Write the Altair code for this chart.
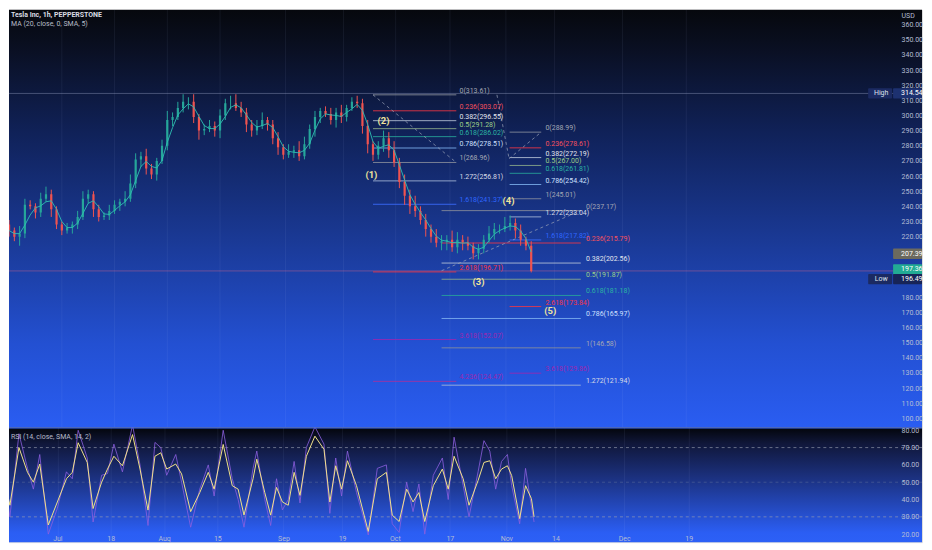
import altair as alt
import pandas as pd

# ---------------- price data (one candle per trading day, day 0 = Jul 1) ----------------
first_day = -10
first_open = 228
closes = [224, 220, 222, 241, 240, 236, 245, 248, 238, 228,
          224, 226, 228, 233, 245, 248, 238, 233, 234, 237,
          241, 243, 245, 255, 271, 273, 265, 261, 270, 280,
          297, 299, 305, 309, 309, 299, 290, 291, 293, 290,
          300, 308, 308, 305, 302, 294, 290, 293, 297, 294,
          285, 279, 274, 276, 277, 273, 281, 291, 299, 303,
          301, 297, 302, 299, 305, 309, 308, 293, 281, 274,
          280, 285, 277, 269, 256, 247, 240, 237, 231, 225,
          220, 216, 217, 218, 213, 218, 216, 214, 209, 212,
          218, 222, 225, 225, 227, 229, 224, 218, 214, 197.36]
wick_up = [3, 2, 5, 4, 3, 2, 4, 5, 3, 2,
           2, 3, 2, 4, 5, 3, 2, 3, 2, 4,
           3, 2, 5, 6, 4, 3, 5, 3, 2, 4,
           6, 3, 4, 5, 3, 5, 2, 3, 4, 3,
           4, 3, 5, 6, 4, 3, 3, 4, 5, 2,
           3, 4, 2, 5, 3, 6, 5, 3, 4, 2,
           3, 4, 3, 5, 2, 3, 4, 3, 4, 2,
           3, 5, 4, 6, 3, 5, 4, 7, 3, 4,
           3, 5, 4, 3, 6, 5, 3, 4, 2, 3,
           3, 5, 4, 3, 6, 5, 3, 4, 2, 3]
wick_dn = [4, 3, 6, 3, 2, 4, 3, 2, 5, 3,
           3, 2, 4, 3, 2, 3, 5, 3, 2, 3,
           2, 4, 3, 2, 3, 5, 4, 3, 4, 2,
           3, 4, 2, 3, 5, 4, 6, 3, 2, 4,
           5, 3, 4, 2, 3, 5, 4, 3, 2, 4,
           4, 5, 3, 2, 4, 3, 2, 3, 5, 4,
           2, 3, 5, 4, 3, 2, 3, 5, 6, 4,
           3, 4, 5, 3, 4, 6, 5, 4, 3, 5,
           4, 3, 5, 6, 3, 4, 5, 3, 4, 4,
           3, 2, 4, 3, 2, 3, 5, 4, 3, 1]
ma_len = 3

# ---------------- RSI data ----------------
rsi_day = [-10.6, -8.9, -7.2, -5.6, -4.5, -3.3, -1.7, 0.0, 1.7, 2.8,
           3.9, 5.6, 6.7, 8.3, 9.4, 10.6, 12.2, 14.1, 15.5, 17.0,
           18.3, 19.4, 20.5, 22.2, 23.3, 25.0, 26.7, 28.3, 29.4, 31.1,
           32.8, 33.9, 35.0, 36.7, 37.4, 38.9, 40.0, 41.1, 42.2, 43.3,
           44.4, 45.5, 46.7, 48.3, 50.0, 51.1, 52.2, 53.3, 54.4, 56.1,
           58.3, 60.0, 61.7, 62.8, 64.1, 65.5, 66.7, 67.8, 68.9, 70.5,
           72.2, 73.3, 74.4, 76.1, 77.2, 78.9, 80.0, 81.1, 82.2, 83.3,
           84.4, 85.2, 86.7, 87.8, 88.9, 89.4]
rsi_sma = [61.4, 36.7, 70, 55.7, 50, 60.5, 25.3, 38.6, 52, 55.7,
           72.8, 61.4, 34.8, 50, 57.6, 65, 59.5, 77.5, 57.6, 33.9,
           65, 67, 57.6, 60.5, 54.8, 33, 44, 55.7, 46, 71.8,
           48, 46, 31, 52, 63.3, 44, 31, 47, 38.6, 36.7,
           55.7, 42.4, 65, 76.6, 69, 38.6, 59.5, 46, 62.4, 48,
           21.6, 52, 55.7, 31, 27.3, 46, 38.6, 44, 27.3, 48,
           57.6, 46, 65, 52, 36.7, 51, 61.4, 62.4, 52, 57.6,
           59.5, 53.8, 29, 48, 40.5, 30]
rsi_raw = [66, 30, 78, 58, 46, 66, 20, 35, 56, 52,
           80, 64, 27, 54, 55, 72, 56, 83, 60, 25,
           73, 70, 54, 66, 50, 24, 46, 60, 42, 80,
           52, 40, 24, 58, 68, 40, 25, 52, 34, 40,
           62, 38, 70, 82, 72, 32, 64, 42, 68, 44,
           19.5, 58, 60, 26, 21, 50, 33, 49, 20, 54,
           64, 40, 76, 48, 30, 56, 74, 68, 46, 62,
           66, 48, 26, 58, 36, 27]
rsi_levels = [70, 50, 30]
rsi_level_opacity = [0.7, 0.3, 0.7]

# ---------------- axes ----------------
tick_days = [0, 10.0, 20.0, 30.0, 42.4, 53.4, 63.3, 73.6, 84.2, 93.4, 106.3, 118.4]
tick_labels = ["Jul", "18", "Aug", "15", "Sep", "19", "Oct", "17", "Nov", "14", "Dec", "19"]
price_ticks = [100, 110, 120, 130, 140, 150, 160, 170, 180,
               220, 230, 240, 250, 260, 270, 280, 290, 300, 310, 320, 330, 340, 350, 360]
rsi_ticks = [20, 30, 40, 50, 60, 70, 80]
x_domain = [-9.07, 162.15]
price_domain = [94.0, 369.7]
rsi_domain = [15.4, 81.6]

# ---------------- fibonacci drawings ----------------
fibA_levels = ["0", "0.236", "0.382", "0.5", "0.618", "0.786", "1", "1.272", "1.618", "2.618", "3.618", "4.236"]
fibA_prices = [313.61, 303.07, 296.55, 291.28, 286.02, 278.51, 268.96, 256.81, 241.37, 196.71, 152.07, 124.47]
fibB_levels = ["0", "0.236", "0.382", "0.5", "0.618", "0.786", "1", "1.272", "1.618", "2.618", "3.618"]
fibB_prices = [288.99, 278.61, 272.19, 267.00, 261.81, 254.42, 245.01, 233.04, 217.82, 173.84, 129.86]
fibC_levels = ["0", "0.236", "0.382", "0.5", "0.618", "0.786", "1", "1.272"]
fibC_prices = [237.17, 215.79, 202.56, 191.87, 181.18, 165.97, 146.58, 121.94]
fib_spans = {"A": (59.0, 74.8, 75.4), "B": (84.9, 90.9, 91.7), "C": (72.0, 98.4, 99.4)}
line_colors = {"0": "#8a8f9c", "0.236": "#f23645", "0.382": "#b8c4d8", "0.5": "#8fae8a",
               "0.618": "#27a69a", "0.786": "#7fb2f0", "1": "#8a8f9c", "1.272": "#a8b8d8",
               "1.618": "#3b6cff", "2.618": "#f23645", "3.618": "#9c27b0", "4.236": "#a8329e"}
label_colors = {"0": "#a3a7b3", "0.236": "#f5515e", "0.382": "#e3e6ee", "0.5": "#9fd08a",
                "0.618": "#2bb3a3", "0.786": "#cfe0ff", "1": "#a3a7b3", "1.272": "#d6dbe6",
                "1.618": "#2f66ff", "2.618": "#f23645", "3.618": "#9c27b0", "4.236": "#9c27b0"}

seg_x1 = [59.0, 82.5, 84.8, 72.0]
seg_y1 = [313.61, 313.61, 271.5, 197.5]
seg_x2 = [74.8, 84.8, 90.9, 98.4]
seg_y2 = [268.96, 271.5, 289.0, 237.17]

wave_text = ["(1)", "(2)", "(3)", "(4)", "(5)"]
wave_day = [58.7, 61.0, 79.0, 84.7, 92.6]
wave_price = [260.5, 296.6, 190.0, 243.3, 171.0]

hline_price = [314.54, 197.36]
hline_color = ["#9aa6c8", "#e06a86"]

badge_text = ["314.54", "207.39", "197.36", "196.49"]
badge_price = [314.54, 207.39, 197.36, 196.49]
badge_shift = [0, 1.3, 1.0, -4.6]
badge_fill = ["#1d3170", "#6c6a5e", "#22ab94", "#172457"]
tag_text = ["High", "Low"]
tag_price = [314.54, 196.49]
tag_shift = [0, -4.6]

# ---------------- frames ----------------
days = list(range(first_day, first_day + len(closes)))
opens = [first_open] + closes[:-1]
candles = pd.DataFrame({
    "day": days, "open": opens, "close": closes,
    "high": [max(o, c) + w for o, c, w in zip(opens, closes, wick_up)],
    "low": [min(o, c) - w for o, c, w in zip(opens, closes, wick_dn)],
})
rows = []
for name, levels, prices in [("A", fibA_levels, fibA_prices), ("B", fibB_levels, fibB_prices),
                             ("C", fibC_levels, fibC_prices)]:
    x0, x1, xl = fib_spans[name]
    for lv, p in zip(levels, prices):
        rows.append({"x0": x0, "x1": x1, "xl": xl, "price": p, "label": f"{lv}({p:.2f})",
                     "lc": line_colors[lv], "tc": label_colors[lv]})
fib = pd.DataFrame(rows)
segs = pd.DataFrame({"x1": seg_x1, "y1": seg_y1, "x2": seg_x2, "y2": seg_y2})
waves = pd.DataFrame({"day": wave_day, "price": wave_price, "t": wave_text})
hlines = pd.DataFrame({"price": hline_price, "c": hline_color})
badges = pd.DataFrame({"t": badge_text, "p": badge_price, "s": badge_shift, "f": badge_fill})
tags = pd.DataFrame({"t": tag_text, "p": tag_price, "s": tag_shift})
rsi = pd.DataFrame({"day": rsi_day, "sma": rsi_sma, "raw": rsi_raw})
rsi_lv = pd.DataFrame({"v": rsi_levels, "o": rsi_level_opacity})
grid_df = pd.DataFrame({"d": tick_days})

# ---------------- styling ----------------
W, H1, H2 = 916, 419, 115
UP, DN = "#26a69a", "#ef5350"
AX = "#b4bcd4"
FONT = "Roboto"
xs = alt.Scale(domain=x_domain, nice=False, zero=False)
ps = alt.Scale(domain=price_domain, nice=False, zero=False)
rs = alt.Scale(domain=rsi_domain, nice=False, zero=False)

lab_expr = "''"
for d, lab in reversed(list(zip(tick_days, tick_labels))):
    lab_expr = f"abs(datum.value - {d}) < 0.01 ? '{lab}' : ({lab_expr})"

PY = alt.Axis(orient="right", offset=-25, values=price_ticks, format=".2f", labelAlign="left",
              labelPadding=4, labelFontSize=7, labelColor=AX, labelFont=FONT, ticks=False,
              domain=False, grid=False, title="USD", titleAngle=0, titleAlign="left",
              titleBaseline="middle", titleX=4, titleY=6, titleFontSize=7,
              titleFontWeight="normal", titleColor=AX, titleFont=FONT, zindex=1)
RX = alt.Axis(values=tick_days, labelExpr=lab_expr, labelOverlap=False, labelFontSize=7,
              labelFont=FONT, labelColor=AX, labelPadding=1, labelBaseline="top",
              offset=-9, ticks=False, domain=False, grid=True, gridColor="#c8d0ff",
              gridOpacity=0.07, title=None, zindex=1)
RY = alt.Axis(orient="right", offset=-25, values=rsi_ticks, format=".2f", labelAlign="left",
              labelPadding=4, labelFontSize=7, labelColor=AX, labelFont=FONT, ticks=False,
              domain=False, grid=False, title=None, zindex=1)


def px(f):
    return alt.X(f, scale=xs, axis=None)


def py(f):
    return alt.Y(f, scale=ps, axis=PY)


def rx(f):
    return alt.X(f, scale=xs, axis=RX)


def ry(f):
    return alt.Y(f, scale=rs, axis=RY)


def grad(stops):
    return alt.LinearGradient(gradient="linear", x1=0, x2=0, y1=0, y2=1,
                              stops=[alt.GradientStop(color=c, offset=o) for o, c in stops])


one = alt.Data(values=[{}])


def bg(stops):
    return alt.Chart(one).mark_rect(color=grad(stops)).encode(
        x=alt.value(0), x2=alt.value("width"), y=alt.value(0), y2=alt.value("height"))


def label(text, x, y, color, weight="normal"):
    return alt.Chart(one).mark_text(text=text, align="left", baseline="middle", fontSize=7,
                                    font=FONT, color=color, fontWeight=weight).encode(
        x=alt.value(x), y=alt.value(y))


price_bg = bg([(0, "#06080d"), (0.1, "#0a1024"), (0.3, "#10225a"), (0.55, "#1a3995"),
               (0.8, "#2350d2"), (1, "#2a5df2")])
vgrid = alt.Chart(grid_df).mark_rule(color="#c8d0ff", opacity=0.07, strokeWidth=1).encode(x=px("d:Q"))

hl = alt.Chart(hlines).mark_rule(strokeWidth=0.8, opacity=0.5).encode(
    y=py("price:Q"), color=alt.Color("c:N", scale=None))

fib_lines = alt.Chart(fib).mark_rule(strokeWidth=1, opacity=0.85).encode(
    x=px("x0:Q"), x2="x1:Q", y=py("price:Q"), color=alt.Color("lc:N", scale=None))
fib_text = alt.Chart(fib).mark_text(align="left", baseline="middle", dy=-4, fontSize=7, font=FONT).encode(
    x=px("xl:Q"), y=py("price:Q"), text="label:N", color=alt.Color("tc:N", scale=None))
seg_chart = alt.Chart(segs).mark_rule(strokeDash=[3, 3], color="#9aa3b8", strokeWidth=0.9, opacity=0.8).encode(
    x=px("x1:Q"), x2="x2:Q", y=py("y1:Q"), y2="y2:Q")

cond = alt.condition("datum.close >= datum.open", alt.value(UP), alt.value(DN))
wicks = alt.Chart(candles).mark_rule(strokeWidth=1, clip=True).encode(
    x=px("day:Q"), y=py("low:Q"), y2="high:Q", color=cond)
bodies = alt.Chart(candles).mark_bar(size=2.2, clip=True).encode(
    x=px("day:Q"), y=py("open:Q"), y2="close:Q", color=cond)
ma = alt.Chart(candles).transform_window(
    ma="mean(close)", frame=[-(ma_len - 1), 0], sort=[alt.SortField("day")]
).mark_line(color="#2fbfb4", strokeWidth=1, opacity=0.9, clip=True).encode(
    x=px("day:Q"), y=py("ma:Q"))

wave_chart = alt.Chart(waves).mark_text(fontSize=9.5, font=FONT, color="#efe49c", fontWeight="bold").encode(
    x=px("day:Q"), y=py("price:Q"), text="t:N")

badge_rect = alt.Chart(badges).transform_calculate(
    y0="datum.p + datum.s - 3.4", y1="datum.p + datum.s + 3.4"
).mark_rect(cornerRadius=1).encode(
    x=alt.value(887), x2=alt.value("width"),
    y=py("y0:Q"), y2="y1:Q", color=alt.Color("f:N", scale=None))
badge_txt = alt.Chart(badges).transform_calculate(yc="datum.p + datum.s").mark_text(
    align="left", baseline="middle", fontSize=7, font=FONT, color="#ffffff").encode(
    x=alt.value(895), y=py("yc:Q"), text="t:N")
tag_rect = alt.Chart(tags).transform_calculate(
    y0="datum.p + datum.s - 3.4", y1="datum.p + datum.s + 3.4"
).mark_rect(color="#1b2a62", cornerRadius=1).encode(
    x=alt.value(862), x2=alt.value(886), y=py("y0:Q"), y2="y1:Q")
tag_txt = alt.Chart(tags).transform_calculate(yc="datum.p + datum.s").mark_text(
    align="center", baseline="middle", fontSize=7, font=FONT, color="#dfe3ee").encode(
    x=alt.value(875), y=py("yc:Q"), text="t:N")

price = alt.layer(
    price_bg, vgrid, hl, fib_lines, seg_chart, fib_text, wicks, bodies, ma, wave_chart,
    tag_rect, tag_txt, badge_rect, badge_txt,
    label("Tesla Inc, 1h, PEPPERSTONE", 2, 5, "#d9dce4", "bold"),
    label("MA (20, close, 0, SMA, 5)", 2, 14, "#b7bcc8"),
).properties(width=W, height=H1)

# ---------------- RSI panel ----------------
rsi_bg = bg([(0, "#03050a"), (0.14, "#10173a"), (0.45, "#1c3282"), (0.92, "#2b5ef4"), (1, "#2c60f6")])
sep = alt.Chart(one).mark_rule(color="#3d6dff", strokeWidth=1).encode(y=alt.value(0.5))
lv = alt.Chart(rsi_lv).mark_rule(strokeDash=[3, 3], color="#9aa0b0", strokeWidth=0.9).encode(
    y=ry("v:Q"), opacity=alt.Opacity("o:Q", scale=None))
raw_line = alt.Chart(rsi).mark_line(color="#8d5fe0", strokeWidth=1, opacity=0.8, clip=True).encode(
    x=rx("day:Q"), y=ry("raw:Q"))
sma_line = alt.Chart(rsi).mark_line(color="#f2e28a", strokeWidth=1, clip=True).encode(
    x=rx("day:Q"), y=ry("sma:Q"))

rsi_panel = alt.layer(
    rsi_bg, lv, raw_line, sma_line, sep,
    label("RSI (14, close, SMA, 14, 2)", 2, 10, "#b7bcc8"),
).properties(width=W, height=H2)

chart = alt.vconcat(price, rsi_panel, spacing=0, bounds="flush").properties(
    padding=0, background="transparent"
).configure_view(stroke="transparent").configure(font=FONT)

chart.save("out.html", embed_options={"renderer": "svg", "actions": False})
